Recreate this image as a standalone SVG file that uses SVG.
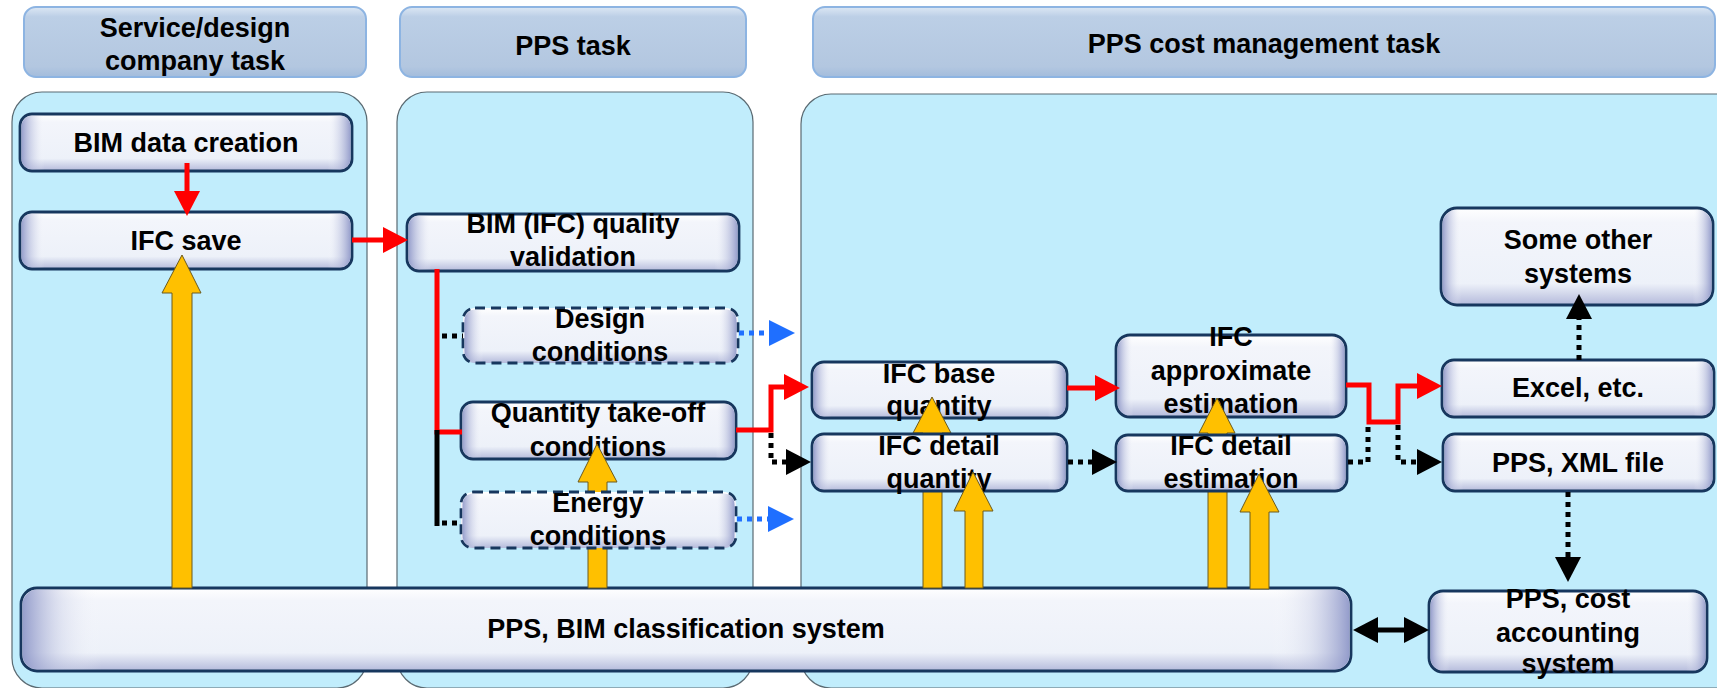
<svg xmlns="http://www.w3.org/2000/svg" width="1717" height="688" viewBox="0 0 1717 688">
<defs>
<style>
.lane{fill:#C1EDFC;stroke:#5a6a72;stroke-width:1.2}
.hdr{fill:url(#hdrV);stroke:#8DB4E2;stroke-width:2}
.nb{fill:url(#nodeV);stroke:#17375E;stroke-width:2.8}
.nbd{fill:url(#nodeV);stroke:#17375E;stroke-width:2.8;stroke-dasharray:10 6}
.nh{fill:url(#nodeH);stroke:none}
.t{font-family:"Liberation Sans",Arial,sans-serif;font-weight:bold;font-size:27px;fill:#000;text-anchor:middle}
.red{fill:none;stroke:#FF0000;stroke-width:5}
.blk{fill:none;stroke:#000;stroke-width:5}
.dot{fill:none;stroke:#000;stroke-width:5;stroke-dasharray:5 5}
.bdot{fill:none;stroke:#1F6FFF;stroke-width:5;stroke-dasharray:5 5}
.ya{fill:#FFC000;stroke:#6B5A1E;stroke-width:1}
</style>
<linearGradient id="hdrV" x1="0" y1="0" x2="0" y2="1">
<stop offset="0" stop-color="#DCE7F4"/>
<stop offset="0.14" stop-color="#BCCFE6"/>
<stop offset="0.85" stop-color="#B3C7E0"/>
<stop offset="1" stop-color="#A3BCDC"/>
</linearGradient>
<linearGradient id="nodeV" x1="0" y1="0" x2="0" y2="1">
<stop offset="0" stop-color="#FFFFFF"/>
<stop offset="0.15" stop-color="#F3F5FB"/>
<stop offset="0.78" stop-color="#EDF1F9"/>
<stop offset="1" stop-color="#B4BADB"/>
</linearGradient>
<linearGradient id="nodeH" x1="0" y1="0" x2="1" y2="0">
<stop offset="0" stop-color="#8790C4" stop-opacity="0.85"/>
<stop offset="0.045" stop-color="#C9CEE6" stop-opacity="0.3"/>
<stop offset="0.07" stop-color="#FFFFFF" stop-opacity="0"/>
<stop offset="0.93" stop-color="#FFFFFF" stop-opacity="0"/>
<stop offset="0.955" stop-color="#C9CEE6" stop-opacity="0.3"/>
<stop offset="1" stop-color="#8790C4" stop-opacity="0.85"/>
</linearGradient>
<linearGradient id="barH" x1="0" y1="0" x2="1" y2="0">
<stop offset="0" stop-color="#8A93C6" stop-opacity="0.9"/>
<stop offset="0.03" stop-color="#C9CEE6" stop-opacity="0.4"/>
<stop offset="0.06" stop-color="#FFFFFF" stop-opacity="0"/>
<stop offset="0.94" stop-color="#FFFFFF" stop-opacity="0"/>
<stop offset="0.97" stop-color="#C9CEE6" stop-opacity="0.4"/>
<stop offset="1" stop-color="#8A93C6" stop-opacity="0.9"/>
</linearGradient>
<marker id="mRed" markerUnits="userSpaceOnUse" markerWidth="26" markerHeight="26" refX="0" refY="13" orient="auto" overflow="visible">
<path d="M0,0 L25,13 L0,26 z" fill="#FF0000"/>
</marker>
<marker id="mBlk" markerUnits="userSpaceOnUse" markerWidth="26" markerHeight="26" refX="0" refY="13" orient="auto" overflow="visible">
<path d="M0,0 L25,13 L0,26 z" fill="#000"/>
</marker>
<marker id="mBlkS" markerUnits="userSpaceOnUse" markerWidth="26" markerHeight="26" refX="0" refY="13" orient="auto-start-reverse" overflow="visible">
<path d="M0,0 L25,13 L0,26 z" fill="#000"/>
</marker>
<marker id="mBlue" markerUnits="userSpaceOnUse" markerWidth="26" markerHeight="26" refX="0" refY="13" orient="auto" overflow="visible">
<path d="M0,0 L26,13 L0,26 z" fill="#1F6FFF"/>
</marker>
</defs>
<rect width="1717" height="688" fill="#FFFFFF"/>

<g id="lanes">
<rect class="lane" x="12" y="92" width="355" height="596" rx="30"/>
<rect class="lane" x="397" y="92" width="356" height="596" rx="30"/>
<rect class="lane" x="801" y="94" width="950" height="594" rx="30"/>
</g>

<g id="headers">
<g id="h-service"><rect class="hdr" x="24" y="7" width="342" height="70" rx="12"/>
<text class="t" x="195" y="37">Service/design</text><text class="t" x="195" y="70">company task</text></g>
<g id="h-pps"><rect class="hdr" x="400" y="7" width="346" height="70" rx="12"/>
<text class="t" x="573" y="55">PPS task</text></g>
<g id="h-cost"><rect class="hdr" x="813" y="7" width="902" height="70" rx="12"/>
<text class="t" x="1264" y="53">PPS cost management task</text></g>
</g>

<g id="n-bim-data"><rect class="nb" x="20" y="114" width="332" height="57" rx="12"/><rect class="nh" x="21.5" y="115.5" width="329" height="54" rx="11"/>
<text class="t" x="186" y="152">BIM data creation</text></g>
<g id="n-ifc-save"><rect class="nb" x="20" y="212" width="332" height="57" rx="12"/><rect class="nh" x="21.5" y="213.5" width="329" height="54" rx="11"/>
<text class="t" x="186" y="250">IFC save</text></g>
<g id="n-validation"><rect class="nb" x="407" y="214" width="332" height="57" rx="12"/><rect class="nh" x="408.5" y="215.5" width="329" height="54" rx="11"/>
<text class="t" x="573" y="233">BIM (IFC) quality</text><text class="t" x="573" y="266">validation</text></g>
<g id="n-design"><rect class="nbd" x="463" y="308" width="275" height="55" rx="12"/><rect class="nh" x="464.5" y="309.5" width="272" height="52" rx="11"/>
<text class="t" x="600" y="328">Design</text><text class="t" x="600" y="361">conditions</text></g>
<g id="n-qto"><rect class="nb" x="461" y="402" width="275" height="57" rx="12"/><rect class="nh" x="462.5" y="403.5" width="272" height="54" rx="11"/>
<text class="t" x="598" y="422">Quantity take-off</text><text class="t" x="598" y="456">conditions</text></g>
<g id="n-base-qty"><rect class="nb" x="812" y="362" width="255" height="56" rx="12"/><rect class="nh" x="813.5" y="363.5" width="252" height="53" rx="11"/>
<text class="t" x="939" y="383">IFC base</text><text class="t" x="939" y="415">quantity</text></g>
<g id="n-approx"><rect class="nb" x="1116" y="335" width="230" height="82" rx="14"/><rect class="nh" x="1117.5" y="336.5" width="227" height="79" rx="13"/>
<text class="t" x="1231" y="346">IFC</text><text class="t" x="1231" y="380">approximate</text><text class="t" x="1231" y="413">estimation</text></g>
<g id="n-other"><rect class="nb" x="1441" y="208" width="272" height="97" rx="16"/><rect class="nh" x="1442.5" y="209.5" width="269" height="94" rx="15"/>
<text class="t" x="1578" y="249">Some other</text><text class="t" x="1578" y="283">systems</text></g>
<g id="n-excel"><rect class="nb" x="1442" y="360" width="272" height="57" rx="12"/><rect class="nh" x="1443.5" y="361.5" width="269" height="54" rx="11"/>
<text class="t" x="1578" y="397">Excel, etc.</text></g>
<g id="n-xml"><rect class="nb" x="1443" y="434" width="271" height="57" rx="12"/><rect class="nh" x="1444.5" y="435.5" width="268" height="54" rx="11"/>
<text class="t" x="1578" y="472">PPS, XML file</text></g>
<g id="n-bar"><rect class="nb" x="21" y="588" width="1330" height="83" rx="16"/><rect x="22.5" y="589.5" width="1327" height="80" rx="15" fill="url(#barH)"/>
<text class="t" x="686" y="638">PPS, BIM classification system</text></g>
<g id="n-cost"><rect class="nb" x="1429" y="591" width="278" height="81" rx="14"/><rect class="nh" x="1430.5" y="592.5" width="275" height="78" rx="13"/>
<text class="t" x="1568" y="608">PPS, cost</text><text class="t" x="1568" y="642">accounting</text><text class="t" x="1568" y="673">system</text></g>

<g id="flow-arrows-1">
<path class="ya" d="M182,255 L201,293 L192,293 L192,588 L172,588 L172,293 L162,293 Z"/>
<path class="ya" d="M597,444 L617,482 L607,482 L607,588 L588,588 L588,482 L578,482 Z"/>
<path class="ya" d="M932,397 L951,433 L942,433 L942,588 L923,588 L923,433 L913,433 Z"/>
<path class="ya" d="M1217,398 L1235,433 L1227,433 L1227,588 L1208,588 L1208,433 L1199,433 Z"/>
</g>

<g id="n-energy"><rect class="nbd" x="461" y="492" width="275" height="56" rx="12"/><rect class="nh" x="462.5" y="493.5" width="272" height="53" rx="11"/>
<text class="t" x="598" y="512">Energy</text><text class="t" x="598" y="545">conditions</text></g>
<g id="n-detail-qty"><rect class="nb" x="812" y="434" width="255" height="57" rx="12"/><rect class="nh" x="813.5" y="435.5" width="252" height="54" rx="11"/>
<text class="t" x="939" y="455">IFC detail</text><text class="t" x="939" y="488">quantity</text></g>
<g id="n-detail-est"><rect class="nb" x="1116" y="435" width="231" height="56" rx="12"/><rect class="nh" x="1117.5" y="436.5" width="228" height="53" rx="11"/>
<text class="t" x="1231" y="455">IFC detail</text><text class="t" x="1231" y="488">estimation</text></g>

<g id="flow-arrows-2">
<path class="ya" d="M973,472 L993,511 L983,511 L983,588 L965,588 L965,511 L954,511 Z"/>
<path class="ya" d="M1259,474 L1279,512 L1269,512 L1269,589 L1250,589 L1250,512 L1240,512 Z"/>
</g>

<g id="connectors">
<path class="red" d="M187,163 V191" marker-end="url(#mRed)"/>
<path class="red" d="M352,240 H383" marker-end="url(#mRed)"/>
<path class="red" d="M437,269 V432 H462"/>
<path class="blk" d="M437,430 V526"/>
<path class="dot" d="M442,336 H463"/>
<path class="dot" d="M442,523 H461"/>
<path class="bdot" d="M739,333 H769" marker-end="url(#mBlue)"/>
<path class="bdot" d="M737,519 H768" marker-end="url(#mBlue)"/>
<path class="red" d="M736,430 H771 V387 H784" marker-end="url(#mRed)"/>
<path class="dot" d="M771,433 V462 H786" marker-end="url(#mBlk)"/>
<path class="red" d="M1067,388 H1095" marker-end="url(#mRed)"/>
<path class="dot" d="M1068,462 H1092" marker-end="url(#mBlk)"/>
<path class="red" d="M1346,385 H1369 V422 H1398 V386 H1417" marker-end="url(#mRed)"/>
<path class="dot" d="M1348,462 H1368 V425"/>
<path class="dot" d="M1398,425 V462 H1417" marker-end="url(#mBlk)"/>
<path class="dot" d="M1579,360 V319" marker-end="url(#mBlk)"/>
<path class="dot" d="M1568,492 V557" marker-end="url(#mBlk)"/>
<path class="blk" d="M1378,630 H1404" marker-start="url(#mBlkS)" marker-end="url(#mBlkS)"/>
</g>
</svg>
